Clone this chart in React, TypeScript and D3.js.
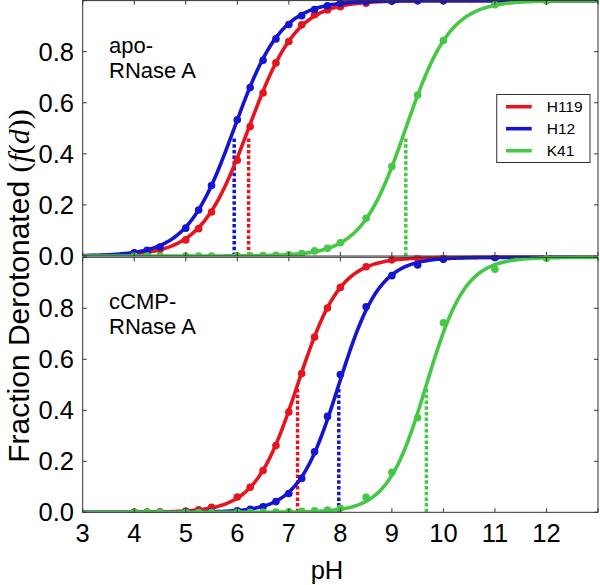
import React from "react";
import * as d3 from "d3";

// ---- data ----
const pH = [4, 4.25, 4.5, 5, 5.25, 5.5, 6, 6.25, 6.5, 6.75, 7, 7.25, 7.5, 7.75, 8, 8.5, 9, 9.5, 10, 11, 12];

const seriesNames = ["H119", "H12", "K41"];
const seriesColors = ["#e6141e", "#1414d2", "#46c846"];

// apo-RNase A
const apoH119 = [0.009, 0.015, 0.025, 0.063, 0.107, 0.172, 0.375, 0.507, 0.638, 0.756, 0.84, 0.905, 0.945, 0.963, 0.976, 0.99, 0.997, 0.999, 1, 1, 1];
const apoH12 = [0.013, 0.022, 0.035, 0.109, 0.18, 0.276, 0.533, 0.66, 0.766, 0.85, 0.906, 0.941, 0.965, 0.98, 0.99, 0.997, 0.999, 1, 1, 1, 1];
const apoK41 = [0, 0, 0, 0, 0, 0, 0.001, 0.001, 0.002, 0.003, 0.005, 0.01, 0.02, 0.03, 0.052, 0.148, 0.35, 0.63, 0.844, 0.984, 1];
const apoPKa = [6.22, 5.94, 9.27];
const apoHill = [0.93, 0.95, 1.0];

// cCMP-RNase A
const cmpH119 = [0.0005, 0.001, 0.002, 0.005, 0.01, 0.02, 0.06, 0.098, 0.164, 0.262, 0.393, 0.544, 0.687, 0.801, 0.882, 0.963, 0.99, 0.997, 0.999, 1, 1];
const cmpH12 = [0, 0, 0, 0.001, 0.001, 0.002, 0.006, 0.012, 0.022, 0.042, 0.074, 0.133, 0.237, 0.376, 0.54, 0.806, 0.928, 0.97, 0.992, 0.999, 1];
const cmpK41 = [0, 0, 0, 0, 0, 0, 0, 0, 0.001, 0.001, 0.002, 0.004, 0.006, 0.009, 0.016, 0.059, 0.157, 0.371, 0.743, 0.953, 0.996];
const cmpPKa = [7.17, 7.97, 9.67];
const cmpHill = [1.05, 1.1, 1.15];

const xTicks = [3, 4, 5, 6, 7, 8, 9, 10, 11, 12, 13];
const xTickLabels = ["3", "4", "5", "6", "7", "8", "9", "10", "11", "12", ""];
const yTicks = [0, 0.2, 0.4, 0.6, 0.8, 1.0];
const yTickLabels = ["0.0", "0.2", "0.4", "0.6", "0.8", ""];

const panels = [
  { lines: ["apo-", "RNase A"], values: [apoH119, apoH12, apoK41], pKa: apoPKa, hill: apoHill, dotTop: 0.46, legend: true },
  { lines: ["cCMP-", "RNase A"], values: [cmpH119, cmpH12, cmpK41], pKa: cmpPKa, hill: cmpHill, dotTop: 0.49, legend: false },
];

// ---- layout ----
const W = 600;
const H = 585;
const left = 82.7;
const right = 598;
const panelRanges: [number, number][] = [
  [256, 0.6],
  [512.3, 257.3],
];
const FONT = "'Liberation Sans', Arial, Helvetica, sans-serif";
const SERIF = "'Liberation Serif', 'DejaVu Serif', serif";

const x = d3.scaleLinear().domain([3, 13]).range([left, right]);
const fitX = d3.range(3, 13.0001, 0.04);

function Panel({ idx }: { idx: number }) {
  const p = panels[idx];
  const y = d3.scaleLinear().domain([0, 1]).range(panelRanges[idx]);
  const [y0, y1] = panelRanges[idx];
  const tl = 4;
  const gen = d3
    .line<number[]>()
    .x((d) => x(d[0]))
    .y((d) => y(d[1]));
  return (
    <g>
      <defs>
        <clipPath id={"clip" + idx}>
          <rect x={left} y={y1 - 2} width={right - left} height={y0 - y1 + 2} />
        </clipPath>
      </defs>
      <g clipPath={`url(#clip${idx})`}>
        {/* pKa dotted lines */}
        {p.pKa.map((k, i) => (
          <line
            key={"pk" + i}
            x1={x(k)}
            x2={x(k)}
            y1={y(0)}
            y2={y(p.dotTop)}
            stroke={seriesColors[i]}
            strokeWidth={3.5}
            strokeDasharray="3.5,2.2"
          />
        ))}
        {/* fitted curves + data points */}
        {p.values.map((vals, i) => {
          const fit = fitX.map((ph) => [ph, 1 / (1 + Math.pow(10, p.hill[i] * (p.pKa[i] - ph)))]);
          return (
            <g key={"s" + i}>
              <path d={gen(fit) || ""} fill="none" stroke={seriesColors[i]} strokeWidth={3.6} />
              {vals.map((v, j) => (
                <circle key={j} cx={x(pH[j])} cy={y(v)} r={3.8} fill={seriesColors[i]} />
              ))}
            </g>
          );
        })}
      </g>
      {/* frame */}
      <rect x={left} y={y1} width={right - left} height={y0 - y1} fill="none" stroke="#333" strokeWidth={1} />
      {/* x ticks (inward, bottom & top) */}
      {xTicks.map((t, i) => (
        <g key={"xt" + i}>
          <line x1={x(t)} x2={x(t)} y1={y0} y2={y0 - tl} stroke="#333" />
          <line x1={x(t)} x2={x(t)} y1={y1} y2={y1 + tl} stroke="#333" />
        </g>
      ))}
      {/* y ticks (inward, left & right) */}
      {yTicks.map((t, i) => (
        <g key={"yt" + i}>
          <line x1={left} x2={left + tl} y1={y(t)} y2={y(t)} stroke="#333" />
          <line x1={right} x2={right - tl} y1={y(t)} y2={y(t)} stroke="#333" />
          <text x={74} y={y(t) + 9} textAnchor="end" fontSize={25.5} fontFamily={FONT} fill="#000">
            {yTickLabels[i]}
          </text>
        </g>
      ))}
      {/* panel label */}
      <text x={109} y={idx === 0 ? 53.3 : 309.3} fontSize={22} fontFamily={FONT} fill="#000">
        {p.lines[0]}
      </text>
      <text x={109} y={idx === 0 ? 78.3 : 334} fontSize={22} fontFamily={FONT} fill="#000">
        {p.lines[1]}
      </text>
      {p.legend && (
        <g>
          <rect x={496.7} y={94.5} width={93.3} height={68} fill="#fff" stroke="#333" strokeWidth={1} />
          {seriesNames.map((n, i) => (
            <g key={n}>
              <line x1={506} x2={531.7} y1={106.7 + i * 22} y2={106.7 + i * 22} stroke={seriesColors[i]} strokeWidth={3.6} />
              <text x={546.7} y={106.7 + i * 22 + 5.5} fontSize={15.5} fontFamily={FONT} fill="#000">
                {n}
              </text>
            </g>
          ))}
        </g>
      )}
    </g>
  );
}

export default function App() {
  return (
    <svg
      width={W}
      height={H}
      viewBox={`0 0 ${W} ${H}`}
      style={{ position: "absolute", left: 0, top: 0, background: "#fff" }}
    >
      <rect x={0} y={0} width={W} height={H} fill="#fff" />
      <Panel idx={0} />
      <Panel idx={1} />
      {/* x tick labels */}
      {xTicks.map((t, i) => (
        <text key={"xl" + i} x={x(t)} y={541.7} textAnchor="middle" fontSize={25.5} fontFamily={FONT} fill="#000">
          {xTickLabels[i]}
        </text>
      ))}
      <text x={327} y={579} textAnchor="middle" fontSize={25.5} fontFamily={FONT} fill="#000">
        pH
      </text>
      <text transform="translate(29,286) rotate(-90)" textAnchor="middle" fontSize={30} fontFamily={FONT} fill="#000">
        Fraction Derotonated{" "}
        <tspan fontFamily={SERIF}>(</tspan>
        <tspan fontFamily={SERIF} fontStyle="italic">f</tspan>
        <tspan fontFamily={SERIF}>(</tspan>
        <tspan fontFamily={SERIF} fontStyle="italic">d</tspan>
        <tspan fontFamily={SERIF}>))</tspan>
      </text>
    </svg>
  );
}
